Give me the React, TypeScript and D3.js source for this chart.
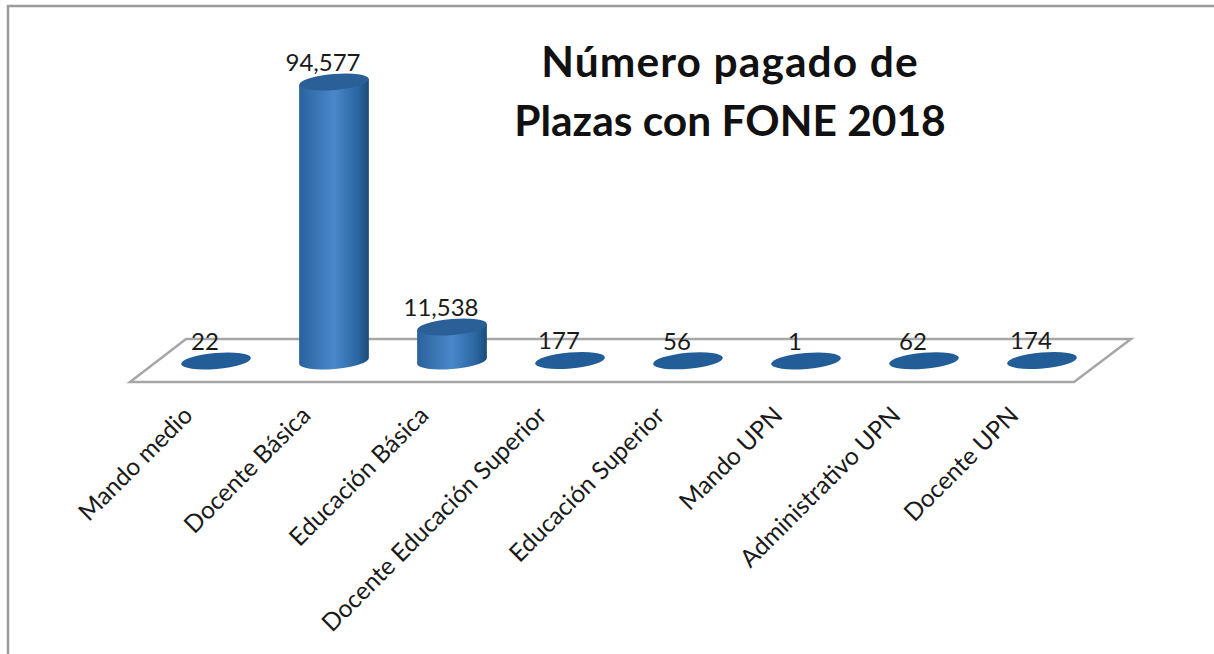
import * as d3 from 'd3';

const categories = [
  'Mando medio',
  'Docente Básica',
  'Educación Básica',
  'Docente Educación Superior',
  'Educación Superior',
  'Mando UPN',
  'Administrativo UPN',
  'Docente UPN',
];
const values = [22, 94577, 11538, 177, 56, 1, 62, 174];
const titleLines = ['Número pagado de', 'Plazas con FONE 2018'];

const width = 1214;
const height = 654;
const font = 'Lato, "Open Sans", sans-serif';

const x = d3.scalePoint<string>().domain(categories).range([216, 1042]);
const y = d3.scaleLinear().domain([0, 94577]).range([361, 82]);
const fmt = d3.format(',');

const rx = 35;
const ry = 8;
const tilt = 5; // the ellipses lean up to the right

// cylinder body: left edge up, over the top, right edge down, round the base
function cylinder(cx: number, top: number, base: number) {
  const dx = rx * Math.cos((tilt * Math.PI) / 180);
  const dy = rx * Math.sin((tilt * Math.PI) / 180);
  const p = d3.path();
  p.moveTo(cx - dx, base + dy);
  p.lineTo(cx - dx, top + dy);
  p.lineTo(cx + dx, top - dy);
  p.lineTo(cx + dx, base - dy);
  return `${p.toString()} A${rx},${ry} ${-tilt} 0 1 ${cx - dx},${base + dy} Z`;
}

const floor = d3.line()([
  [130, 382],
  [1074, 382],
  [1131, 339],
  [186, 339],
]) + 'Z';

export default function App() {
  return (
    <svg
      width={width}
      height={height}
      style={{ position: 'absolute', left: 0, top: 0, background: '#fff' }}
    >
      <defs>
        <linearGradient id="body" x1="0" x2="1" y1="0" y2="0">
          <stop offset="0" stopColor="#2a629c" />
          <stop offset="0.5" stopColor="#4a87cb" />
          <stop offset="0.85" stopColor="#2a659f" />
          <stop offset="1" stopColor="#1b4c78" />
        </linearGradient>
      </defs>

      {/* frame */}
      <path d={`M8,${height}V6H${width}`} fill="none" stroke="#9a9c9c" strokeWidth={2.5} />

      {/* floor */}
      <path d={floor ?? ''} fill="#fff" stroke="#a6a6a6" strokeWidth={2.5} />

      {categories.map((c, i) => {
        const cx = x(c)!;
        const top = y(values[i]);
        const tall = values[i] > 1000;
        return (
          <g key={c}>
            {tall && <path d={cylinder(cx, top, y(0))} fill="url(#body)" />}
            <ellipse
              cx={cx}
              cy={top}
              rx={rx}
              ry={ry}
              fill={tall ? '#2b5f98' : '#225d98'}
              transform={`rotate(${-tilt} ${cx} ${top})`}
            />
            <text
              x={cx - 11}
              y={top - 11}
              textAnchor="middle"
              fontFamily={font}
              fontSize={24}
              fill="#1a1a1a"
            >
              {fmt(values[i])}
            </text>
            <text
              transform={`translate(${cx - 22},${417}) rotate(-45)`}
              textAnchor="end"
              fontFamily={font}
              fontSize={24.5}
              fill="#1a1a1a"
            >
              {c}
            </text>
          </g>
        );
      })}

      {/* title, first line runs a little wider in the original font */}
      {titleLines.map((t, i) => (
        <text
          key={t}
          x={730}
          y={77 + i * 59}
          textAnchor="middle"
          fontFamily={font}
          fontWeight={700}
          fontSize={42.5}
          letterSpacing={i === 0 ? 1.1 : 0}
          fill="#111"
        >
          {t}
        </text>
      ))}
    </svg>
  );
}
